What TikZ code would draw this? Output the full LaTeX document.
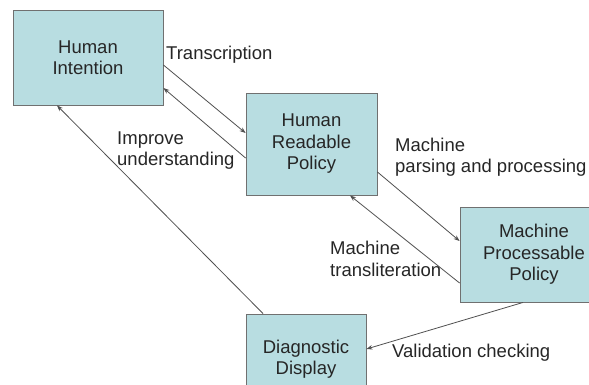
\documentclass[tikz,border=0pt]{standalone}
\usepackage{fontspec}
\setmainfont{Liberation Sans}
\usetikzlibrary{arrows.meta}
\definecolor{boxfill}{HTML}{B8DDE1}
\definecolor{boxline}{HTML}{707070}
\definecolor{arrline}{HTML}{505050}
\begin{document}
\begin{tikzpicture}[x=1pt,y=-1pt,
  box/.style={draw=boxline,fill=boxfill,line width=0.9pt,align=center,inner sep=0pt,
    font=\fontsize{18.5}{21.5}\selectfont,text=black!85},
  lbl/.style={align=left,inner sep=0pt,anchor=west,font=\fontsize{18.5}{21.5}\selectfont,text=black!85},
  arr/.style={draw=arrline,line width=0.8pt,-{Stealth[length=6pt,width=4.5pt]}}]
\useasboundingbox (0,0) rectangle (589,385);
\fill[white] (0,0) rectangle (589,385);
\node[box,minimum width=150pt,minimum height=95pt] (hi) at (88,57.5) {Human\\Intention};
\node[box,minimum width=131pt,minimum height=102pt] (hrp) at (311.5,144) {Human\\Readable\\Policy};
\node[box,minimum width=148pt,minimum height=95pt] (mpp) at (534,254.5) {Machine\\Processable\\Policy};
\node[box,minimum width=120pt,minimum height=90pt] (dd) at (306,359) {Diagnostic\\Display};
\draw[arr] ([yshift=-7.5pt]hi.east) -- ([yshift=11pt]hrp.west);
\draw[arr] ([yshift=-14pt]hrp.west) -- ([yshift=-30.5pt]hi.east);
\draw[arr] ([yshift=-28pt]hrp.east) -- ([yshift=13.5pt]mpp.west);
\draw[arr] ([yshift=-28.5pt]mpp.west) -- ([xshift=38.5pt]hrp.south);
\draw[arr] ([xshift=-11pt]mpp.south) -- ([yshift=10pt]dd.east);
\draw[arr] ([xshift=-43pt]dd.north) -- ([xshift=-31pt]hi.south);
\node[lbl] (t1) at (166,55) {Transcription};
\node[lbl] (t2) at (117,150.5) {Improve\\understanding};
\node[lbl] (t3) at (395,157) {Machine\\parsing and processing};
\node[lbl] (t4) at (330,259) {Machine\\transliteration};
\node[lbl] (t5) at (392,353) {Validation checking};
\end{tikzpicture}
\end{document}
